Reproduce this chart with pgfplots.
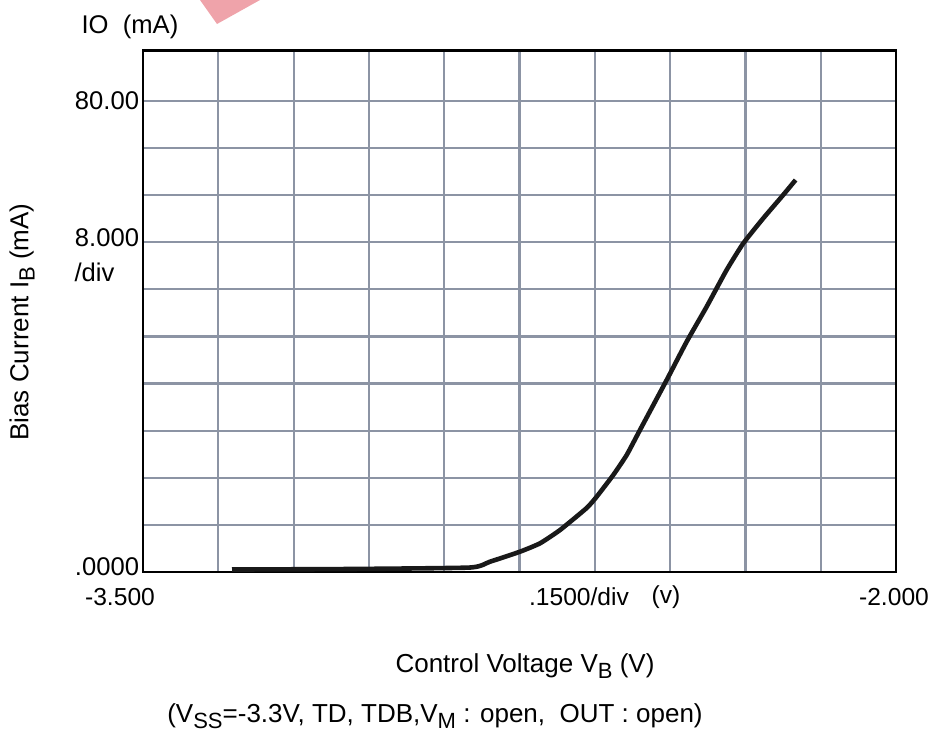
\documentclass[border=0pt]{standalone}
\usepackage{fontspec}
\setmainfont{Liberation Sans}
\usepackage{pgfplots}
\pgfplotsset{compat=1.18}
\definecolor{gridc}{HTML}{8C94A4}
\definecolor{wmark}{HTML}{EFA3AA}
\newcommand\sub[1]{\raisebox{-0.45ex}{\fontsize{11}{12}\selectfont #1}}
\begin{document}
\fontsize{12.3}{14}\selectfont
\begin{tikzpicture}
\useasboundingbox (-71.5pt,-82pt) rectangle (397.5pt,286pt);
% watermark fragment at the top
\fill[wmark] (28.5pt,286pt) -- (37pt,274pt) -- (58.5pt,286pt) -- cycle;
\begin{axis}[at={(0,0)}, anchor=south west,
  scale only axis, width=376.5pt, height=260.65pt,
  xmin=-3.5, xmax=-2, ymin=0, ymax=88.54,
  xtick={-3.5,-3.35,-3.2,-3.05,-2.9,-2.75,-2.6,-2.45,-2.3,-2.15,-2.0},
  ytick={0,8,16,24,32,40,48,56,64,72,80},
  xticklabels={}, yticklabels={},
  major tick length=0pt,
  grid=major,
  major grid style={draw=gridc, line width=1.1pt},
  axis line style={line width=1.4pt, black},
  clip=false]
\addplot[line width=2.3pt, color=black!90, smooth, tension=0.3] coordinates {
  (-3.3227,0.42) (-3.0877,0.51) (-2.8486,0.76) (-2.8088,1.75)
  (-2.7490,3.45) (-2.7092,4.87) (-2.6693,7.13) (-2.6162,10.87)
  (-2.5963,12.79) (-2.5632,16.48) (-2.5365,19.87) (-2.5100,24.12)
  (-2.4568,32.61) (-2.4170,39.12) (-2.3772,45.06) (-2.3374,51.30)
  (-2.3042,55.83) (-2.2644,60.08) (-2.2277,63.74) (-2.2000,66.58)
};
\end{axis}
\begin{scope}[every node/.style={font=\fontsize{12.8}{14}\selectfont}]
\node[anchor=west] at (-35pt,272.5pt) {IO\ \ (mA)};
\node[anchor=east] at (2.3pt,235.5pt) {80.00};
\node[anchor=east] at (2.3pt,167pt) {8.000};
\node[anchor=west] at (-38.5pt,150pt) {/div};
\node[anchor=east] at (2.3pt,2.5pt) {.0000};
\end{scope}
\node at (-11.5pt,-12.5pt) {-3.500};
\node at (218pt,-12.5pt) {.1500/div};
\node at (261.5pt,-12.5pt) {(v)};
\node at (375.5pt,-12.5pt) {-2.000};
\begin{scope}[every node/.style={font=\fontsize{13}{15}\selectfont}]
\node at (191pt,-47pt) {Control Voltage V\sub{B} (V)};
\node at (146pt,-72pt) {(V\sub{SS}=-3.3V, TD, TDB,V\sub{M} : open,\ \ OUT : open)};
\node[rotate=90] at (-60.5pt,125pt) {Bias Current I\sub{B} (mA)};
\end{scope}
\end{tikzpicture}
\end{document}
